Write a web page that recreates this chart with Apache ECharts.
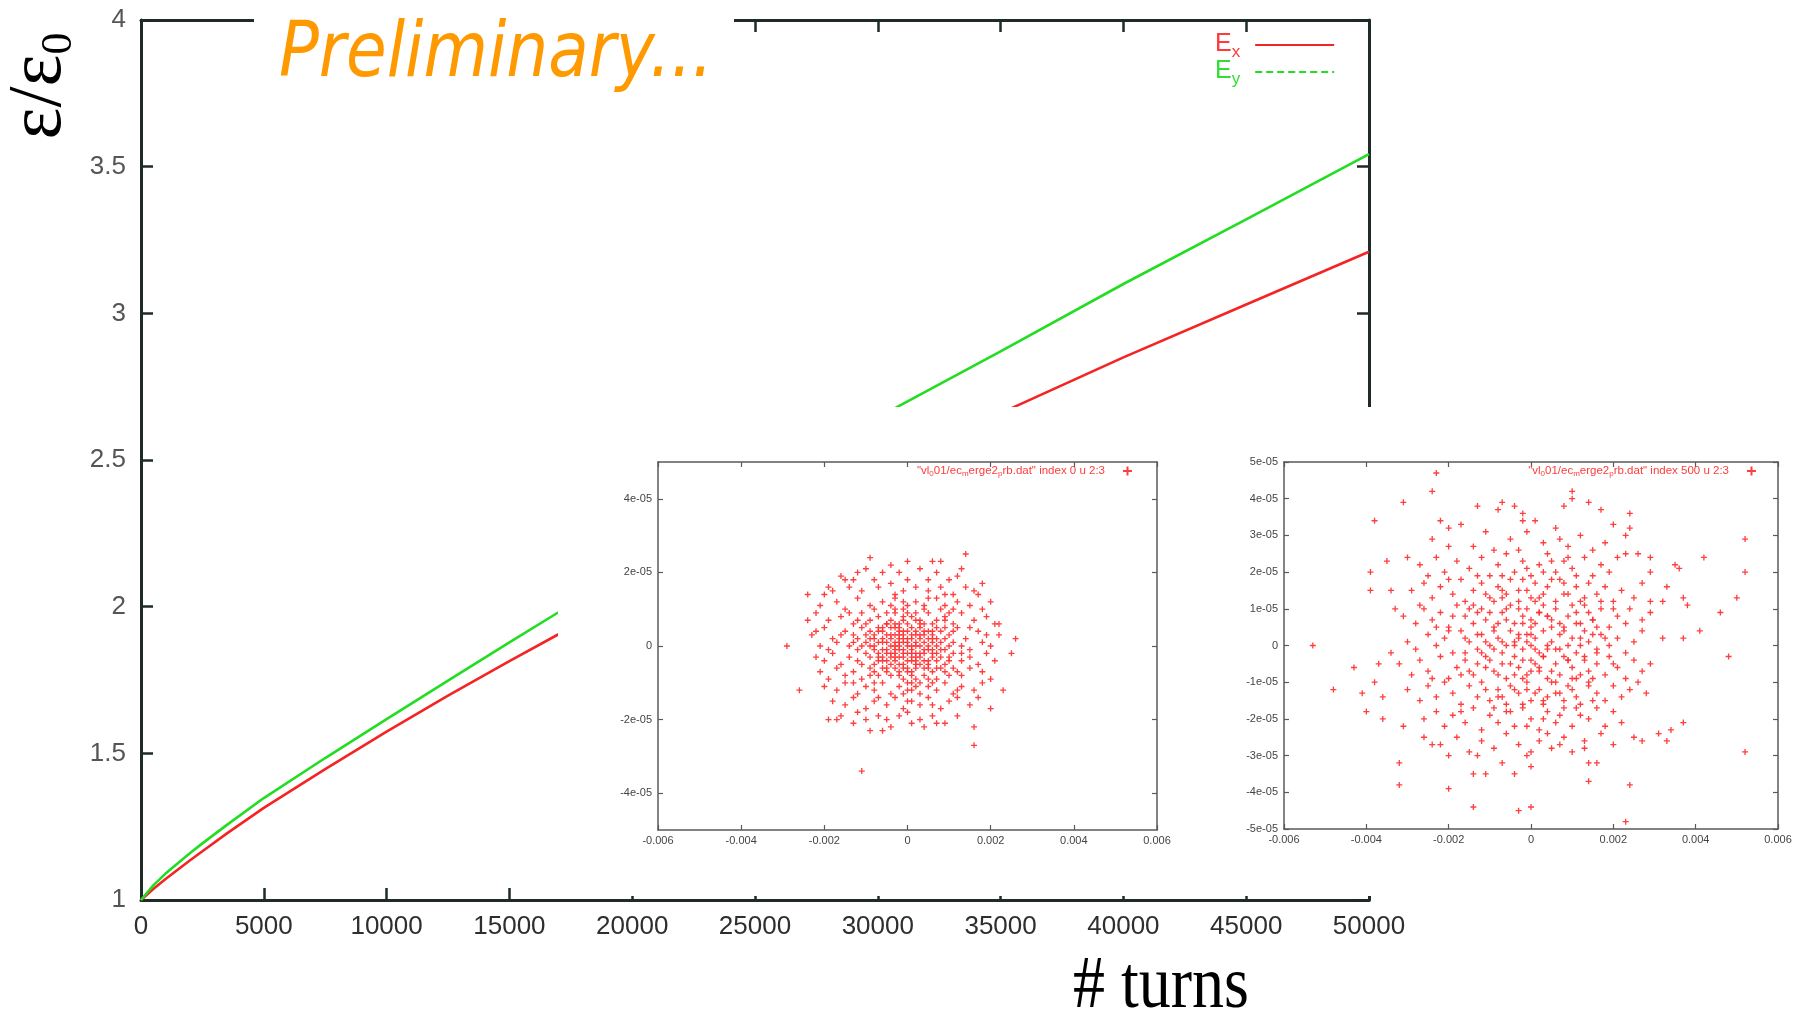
<!DOCTYPE html>
<html><head><meta charset="utf-8">
<script src="https://cdn.jsdelivr.net/npm/echarts@6/dist/echarts.min.js"></script>
<style>html,body{margin:0;padding:0;background:#fff}#c{width:1809px;height:1012px}</style>
</head><body><div id="c"></div>
<script>
// ---------------- DATA ----------------
const turns = [0, 500, 1000, 2000, 2500, 3500, 5000, 7500, 10000, 12500, 15000, 17000, 20000, 25000, 30000, 35000, 40000, 45000, 50000];
const exValues = [1.0, 1.0375, 1.0715, 1.1355, 1.166, 1.227, 1.314, 1.4465, 1.574, 1.6965, 1.814, 1.906, 2.03, 2.24, 2.45, 2.66, 2.85, 3.03, 3.21];
const eyValues = [1.0, 1.05, 1.09, 1.16, 1.193, 1.256, 1.3475, 1.484, 1.6165, 1.748, 1.878, 1.981, 2.14, 2.39, 2.645, 2.87, 3.10, 3.32, 3.543];
const seriesNames = ['Ex', 'Ey'];
const xTickValues = [0, 5000, 10000, 15000, 20000, 25000, 30000, 35000, 40000, 45000, 50000];
const yTickValues = [1, 1.5, 2, 2.5, 3, 3.5, 4];
const insetXTicks = [-0.006, -0.004, -0.002, 0, 0.002, 0.004, 0.006];
const inset1YTicks = [-4e-5, -2e-5, 0, 2e-5, 4e-5];
const inset2YTicks = [-5e-5, -4e-5, -3e-5, -2e-5, -1e-5, 0, 1e-5, 2e-5, 3e-5, 4e-5, 5e-5];
const inset1Name = '"vl_001/ec_merge2_prb.dat" index 0 u 2:3';
const inset2Name = '"vl_001/ec_merge2_prb.dat" index 500 u 2:3';
// inset particle points: [x in units of 1e-4, y in units of 1e-6]
const inset1Pts = [
[-29,0],[-26,-12],[-24,14],[-24,7],[-22,4],[-9,24],[14,25],[-11,-34],[16,-27],[16,-22],[26,2],[25,-2],[23,-12],[20,-17],[-19,-20],[-17,-20],[-9,-23],[-6,-23],[8,23],[6,23],[0,23],[-4,22],[-12,20],[-15,18],[-19,16],[18,17],[12,19],[16,15],[22,6],[22,3],
[-16,19],[-10,21],[-6,20],[-2,20],[3,21],[7,20],[10,18],[-13,18],[0,18],[5,18],[-8,18],[13,21],
[-18,15],[-14,16],[-11,15],[-7,16],[-4,17],[-1,15],[2,16],[5,15],[8,16],[11,14],[14,16],[17,14],[-20,14],[-3,14],[9,14],
[-21,11],[-17,12],[-15,10],[-12,13],[-9,11],[-6,12],[-3,13],[0,11],[2,12],[4,10],[7,13],[9,11],[12,12],[15,11],[18,10],[20,12],[-8,10],[-1,10],[5,13],[11,10],
[-22,9],[-19,7],[-16,8],[-13,6],[-11,9],[-9,7],[-7,8],[-5,6],[-3,9],[-1,7],[1,8],[3,6],[5,9],[7,7],[9,8],[11,6],[13,9],[16,7],[19,8],[21,6],[-4,7],[2,9],[6,6],[-10,6],[-14,9],[10,9],[-2,6],
[-23,3],[-20,5],[-18,2],[-15,4],[-13,3],[-11,5],[-9,2],[-7,4],[-5,3],[-3,5],[-2,2],[0,4],[1,2],[3,5],[4,3],[6,2],[8,4],[10,3],[12,5],[14,2],[17,4],[19,3],[-6,5],[-1,3],[2,4],[5,4],[7,2],[-4,2],[-8,3],[9,5],[-12,2],[15,5],[-16,3],
[-21,0],[-19,-1],[-17,1],[-14,0],[-12,-1],[-10,1],[-8,0],[-6,-1],[-5,1],[-3,0],[-2,-1],[-1,1],[0,0],[1,-1],[2,1],[3,0],[4,-1],[6,1],[7,0],[9,-1],[11,1],[13,0],[15,-1],[18,1],[20,0],[-4,0],[-7,1],[5,0],[8,1],[-2,0],[10,0],[-11,0],
[-22,-3],[-20,-4],[-18,-2],[-16,-5],[-14,-3],[-12,-4],[-10,-2],[-8,-5],[-6,-3],[-5,-4],[-3,-2],[-2,-5],[-1,-3],[0,-4],[1,-2],[2,-5],[3,-3],[5,-4],[6,-2],[8,-3],[9,-5],[11,-2],[13,-4],[15,-3],[17,-5],[19,-2],[21,-4],[-4,-3],[-7,-2],[4,-2],[7,-4],[-1,-5],[10,-4],[-9,-3],[2,-3],
[-21,-7],[-19,-9],[-17,-6],[-15,-8],[-13,-7],[-11,-9],[-9,-6],[-7,-8],[-5,-7],[-3,-6],[-1,-9],[0,-7],[2,-6],[4,-8],[5,-6],[7,-9],[9,-7],[11,-6],[13,-8],[15,-6],[18,-7],[20,-9],[-4,-8],[1,-8],[6,-7],[-8,-7],[10,-8],[-2,-7],
[-20,-11],[-17,-12],[-15,-10],[-12,-13],[-10,-11],[-8,-12],[-6,-10],[-4,-13],[-2,-11],[0,-12],[1,-10],[3,-13],[5,-11],[7,-12],[9,-10],[11,-13],[13,-11],[16,-12],[18,-10],[-13,-10],[2,-11],[-1,-13],[6,-10],[12,-12],
[-18,-15],[-15,-16],[-13,-14],[-10,-17],[-8,-15],[-5,-16],[-3,-14],[-1,-17],[1,-15],[3,-16],[5,-14],[8,-17],[10,-15],[12,-14],[15,-16],[-7,-14],[0,-15],[6,-16],[17,-14],
[-16,-19],[-13,-21],[-10,-20],[-7,-19],[-4,-22],[-2,-19],[1,-21],[3,-20],[6,-19],[9,-21],[12,-19],[-12,-18],[0,-18],[4,-22],[-5,-20],[7,-21],
[-3,1],[0,2],[-1,-1],[1,3],[-2,4],[2,-2],[-5,-1],[3,2],[-4,-2],[0,-2],[-6,2],[4,1],[-2,-3],[1,5],[-7,-3],[5,-1],[-3,3],[0,6],[-1,-6],[3,-5],[-5,6],[6,4],[-8,-1],[7,-2],[-9,4],[2,7],[-3,-4],[-6,-6],[4,6],[8,-6],
[-1,2],[1,-3],[-2,1],[2,3],[-3,-1],[3,-2],[0,1],[-1,-2],[1,0],[-4,3],[4,4],[-5,-2],[5,2],[-6,1],[6,-3],[-2,5],[2,-4],[-3,6],[3,7],[-7,5],[7,5],[-8,2],[8,-1],[-1,8],[1,-7],[-4,-5],[4,-4],[-5,-6],[5,-5],[-6,4],[6,3],[-7,-4],[7,-6],[-9,0],[9,2],[-2,-8],[2,-9],[0,9],[0,-10],[-10,3],[10,-3],[-3,10],[3,-10],[-11,-5],[11,4],[-12,7],[12,-7],[-1,12],[1,-12],[-4,11],[4,11],[-8,-10],[8,10],[-13,1],[13,-2],[-5,9],[5,-9],[-9,-8],[9,7],[-2,3],[2,0],[-3,-3],[3,3],[-6,-4],[6,-1],[-1,4],[1,-4],[0,-6],[-4,5],[4,-6]
];
const inset2Pts = [
[-53,0],[-48,-12],[-43,-6],[-41,-13],[-40,-18],[-38,-10],[-38,34],[-39,20],[-39,15],[-36,-20],[-36,-14],[-37,-5],[-35,23],[-34,-2],[-33,10],[-34,15],[-32,-32],[-32,-38],[-31,39],[-31,-22],[-30,24],
[-23,47],[-24,42],[-24,29],[-22,34],[-20,32],[-20,-39],[-20,-30],[-24,-27],[-26,-25],[-14,-44],[-14,-35],[-11,-35],[-7,-32],[-4,-35],[-3,-45],[0,-44],[0,-33],[0,-29],
[10,42],[10,40],[8,38],[14,39],[-7,39],[-8,37],[-13,38],[-4,38],[-2,36],[-2,34],[24,-38],[23,-48],[14,-37],[14,-32],[16,-32],[13,-28],[25,-25],[27,-26],[31,-24],[33,-26],[34,-23],[37,-21],
[52,-29],[48,-3],[41,4],[37,2],[32,2],[46,9],[50,13],[52,20],[52,29],[42,24],[35,22],[36,21],[37,13],[38,11],[33,16],[32,12],[29,12],[29,20],[29,24],[26,25],[23,25],[23,30],[24,36],[24,32],[17,37],[18,28],[20,33],
[-17,33],[-14,27],[-11,31],[-9,26],[-5,29],[-1,31],[3,28],[6,32],[9,27],[12,30],[15,26],[-20,27],[1,34],[7,29],[-3,26],
[-27,22],[-23,24],[-21,20],[-18,23],[-15,21],[-12,24],[-10,19],[-8,22],[-6,25],[-4,20],[-2,23],[0,19],[2,22],[4,25],[6,20],[8,23],[10,21],[13,24],[15,19],[17,22],[19,20],[21,24],[-13,19],[-1,21],[5,23],[11,19],[-7,19],[3,20],[9,24],[-25,19],
[-29,15],[-26,17],[-24,13],[-22,16],[-19,14],[-17,18],[-16,12],[-14,15],[-12,17],[-10,13],[-8,16],[-6,14],[-5,18],[-3,12],[-1,15],[1,17],[2,13],[4,16],[6,12],[7,18],[9,14],[11,16],[12,12],[14,17],[16,14],[18,16],[20,12],[22,15],[25,13],[-9,12],[-2,18],[3,14],[8,17],[13,13],[-20,18],[-11,14],[17,12],[27,17],[0,13],[-7,15],
[-31,8],[-28,6],[-26,10],[-24,7],[-22,9],[-20,5],[-18,11],[-16,8],[-14,6],[-12,10],[-11,7],[-9,5],[-7,9],[-5,11],[-4,6],[-2,8],[-1,10],[1,6],[2,9],[3,11],[5,7],[6,10],[8,5],[9,8],[10,11],[12,6],[14,9],[15,7],[17,10],[19,5],[21,8],[23,6],[24,10],[27,7],[-27,11],[-19,8],[-13,9],[-6,7],[0,5],[4,8],[7,6],[11,9],[16,5],[-3,10],[13,11],[-8,6],[-15,10],[20,10],[29,9],[-23,5],
[-30,1],[-28,-1],[-25,3],[-23,0],[-21,2],[-19,-2],[-17,4],[-15,1],[-13,-1],[-12,3],[-10,0],[-8,2],[-7,-2],[-5,4],[-4,1],[-2,-1],[-1,3],[0,0],[1,2],[2,-2],[3,4],[5,1],[6,-1],[7,3],[9,0],[10,2],[11,-2],[13,4],[14,1],[16,-1],[17,3],[19,0],[21,2],[23,-2],[25,1],[27,4],[-6,0],[-3,2],[4,-1],[8,4],[12,0],[-11,1],[-16,-2],[18,2],[-20,4],[0,3],[15,3],[-9,-1],
[-32,-5],[-29,-8],[-27,-4],[-25,-7],[-22,-3],[-20,-9],[-18,-6],[-16,-4],[-14,-8],[-13,-5],[-11,-3],[-9,-7],[-7,-5],[-6,-9],[-4,-3],[-3,-6],[-1,-8],[0,-4],[2,-7],[3,-3],[4,-9],[6,-5],[7,-8],[8,-3],[10,-6],[11,-9],[13,-4],[14,-7],[16,-5],[18,-8],[19,-3],[21,-6],[23,-9],[25,-4],[27,-7],[-24,-9],[-10,-4],[1,-5],[5,-7],[9,-4],[12,-8],[-2,-4],[15,-9],[-8,-8],[20,-5],[29,-5],[-17,-8],
[-30,-12],[-27,-15],[-25,-11],[-23,-14],[-21,-10],[-19,-13],[-17,-16],[-15,-11],[-13,-14],[-12,-10],[-10,-15],[-8,-12],[-6,-16],[-5,-11],[-3,-13],[-1,-10],[0,-15],[2,-12],[3,-16],[5,-10],[6,-13],[8,-15],[9,-11],[11,-14],[12,-16],[14,-10],[16,-13],[18,-15],[20,-11],[22,-14],[24,-12],[26,-10],[28,-13],[-7,-14],[1,-13],[-11,-12],[4,-14],[10,-12],[-2,-16],[15,-15],[-4,-12],
[-26,-20],[-23,-18],[-21,-22],[-19,-19],[-16,-21],[-14,-17],[-12,-23],[-10,-19],[-8,-21],[-6,-18],[-4,-22],[-2,-17],[0,-20],[2,-23],[4,-18],[6,-21],[8,-17],[10,-22],[12,-19],[14,-20],[16,-17],[18,-22],[20,-18],[22,-21],[-17,-18],[-1,-22],[7,-19],[-9,-17],[3,-20],[11,-17],
[-22,-27],[-18,-25],[-15,-29],[-12,-26],[-9,-28],[-6,-24],[-3,-27],[-1,-30],[2,-26],[5,-28],[8,-25],[10,-29],[13,-26],[17,-24],[20,-27],[-13,-30],[4,-24],[7,-27],
[-1,1],[1,-1],[-3,3],[3,-3],[-5,-5],[5,5],[-2,6],[2,-6],[-7,1],[7,-1],[-4,-8],[4,8],[-9,4],[9,-4],[-6,10],[6,-10],[-11,-6],[11,6],[-1,-12],[1,12],[-8,-14],[8,14],[-13,3],[13,-3],[-3,15],[3,-15],[-15,-7],[15,7],[-10,9],[10,-9],[-5,-18],[5,18],[-12,-2],[12,2],[-2,-9],[2,9],[-7,13],[7,-13],[-14,11],[14,-11],[0,7],[0,-7],[-16,2],[16,-2],[-4,0],[4,0]
];

// ---------------- STYLE / BUILD ----------------
const RED = '#f52424', GREEN = '#22dd22', PTS = '#ff2a2a';
const FRAME = '#1e2b28', IFRAME = '#5a5a5a';
const PLUS = 'path://M-0.22,-1H0.22V-0.22H1V0.22H0.22V1H-0.22V0.22H-1V-0.22H-0.22Z';
const sans = "'Liberation Sans', Arial, sans-serif";

function fmtX(v) { return Math.abs(v) < 1e-12 ? '0' : v.toFixed(3); }
function fmtE(v) {
  if (Math.abs(v) < 1e-12) return '0';
  return v.toExponential(0).replace(/e([+-])(\d)$/, 'e$10$2');
}
function subFmt(name) {
  return name.split(/_(.)/).map((p, i) => i % 2 ? '{s|' + p + '}' : '{n|' + p + '}').join('') + '{gap|}';
}

const mainAxisLine = { onZero: false, lineStyle: { color: FRAME, width: 3 } };
const mainTick = { inside: true, length: 12, lineStyle: { color: FRAME, width: 2.5 } };
const insetLine = { onZero: false, lineStyle: { color: IFRAME, width: 1.5 } };
const insetTick = { inside: true, length: 5, lineStyle: { color: IFRAME, width: 1.2 } };
const insetLabel = { fontSize: 11, color: '#444', fontFamily: sans };

function insetX(gi, pos, show) {
  return { gridIndex: gi, type: 'value', position: pos, min: -0.006, max: 0.006, interval: 0.002, z: 20,
    axisLine: insetLine, axisTick: Object.assign({ customValues: insetXTicks }, insetTick),
    axisLabel: Object.assign({ show: show, margin: 5, customValues: insetXTicks, formatter: fmtX }, insetLabel),
    splitLine: { show: false } };
}
function insetY(gi, pos, show, ticks) {
  return { gridIndex: gi, type: 'value', position: pos, min: -5e-5, max: 5e-5, interval: 1e-5, z: 20,
    axisLine: insetLine, axisTick: Object.assign({ customValues: ticks }, insetTick),
    axisLabel: Object.assign({ show: show, margin: 6, customValues: ticks, formatter: fmtE }, insetLabel),
    splitLine: { show: false } };
}
const insetRich = {
  n: { color: '#ff3a3a', fontSize: 11.5, lineHeight: 13, verticalAlign: 'top', fontFamily: sans },
  s: { color: '#ff3a3a', fontSize: 8, lineHeight: 8, padding: [6, 0, 0, 0], fontFamily: sans },
  gap: { width: 13 }
};

const option = {
  backgroundColor: '#ffffff',
  animation: false,
  grid: [
    { left: 141, top: 20, width: 1228, height: 880 },
    { left: 658, top: 462, width: 499, height: 368, z: 20 },
    { left: 1284, top: 462, width: 494, height: 367, z: 20 }
  ],
  xAxis: [
    { gridIndex: 0, type: 'value', position: 'bottom', min: 0, max: 50000, interval: 5000,
      axisLine: mainAxisLine, axisTick: Object.assign({ customValues: xTickValues }, mainTick),
      axisLabel: { customValues: xTickValues, formatter: v => String(v), fontSize: 26, color: '#2e2e2e', margin: 14, fontFamily: sans },
      splitLine: { show: false } },
    { gridIndex: 0, type: 'value', position: 'top', min: 0, max: 50000, interval: 5000,
      axisLine: mainAxisLine, axisTick: mainTick, axisLabel: { show: false }, splitLine: { show: false } },
    insetX(1, 'bottom', true), insetX(1, 'top', false),
    insetX(2, 'bottom', true), insetX(2, 'top', false)
  ],
  yAxis: [
    { gridIndex: 0, type: 'value', position: 'left', min: 1, max: 4, interval: 0.5,
      axisLine: mainAxisLine, axisTick: Object.assign({ customValues: yTickValues }, mainTick),
      axisLabel: { customValues: yTickValues, formatter: v => String(v), fontSize: 26, color: '#555', margin: 15, fontFamily: sans },
      splitLine: { show: false } },
    { gridIndex: 0, type: 'value', position: 'right', min: 1, max: 4, interval: 0.5,
      axisLine: mainAxisLine, axisTick: mainTick, axisLabel: { show: false }, splitLine: { show: false } },
    insetY(1, 'left', true, inset1YTicks), insetY(1, 'right', false, inset1YTicks),
    insetY(2, 'left', true, inset2YTicks), insetY(2, 'right', false, inset2YTicks)
  ],
  legend: [
    { data: [{ name: 'Ex' }, { name: 'Ey', lineStyle: { type: [7, 4] } }],
      orient: 'vertical', left: 1215, top: 29, align: 'right', padding: 0,
      itemWidth: 79, itemHeight: 14, itemGap: -5, selectedMode: false,
      itemStyle: { opacity: 0 },
      formatter: n => n === 'Ex' ? '{r|E}{rs|x}' : '{g|E}{gs|y}',
      textStyle: { rich: {
        r: { color: '#ff3a3a', fontSize: 25, lineHeight: 26, verticalAlign: 'top', fontFamily: sans },
        rs: { color: '#ff3a3a', fontSize: 17, lineHeight: 17, padding: [15, 10, 0, 0], fontFamily: sans },
        g: { color: '#33dd33', fontSize: 25, lineHeight: 26, verticalAlign: 'top', fontFamily: sans },
        gs: { color: '#33dd33', fontSize: 17, lineHeight: 17, padding: [15, 10, 0, 0], fontFamily: sans }
      } } },
    { data: [inset1Name], right: 677, top: 464, align: 'right', padding: 0, z: 25,
      itemWidth: 9, itemHeight: 9, icon: PLUS, selectedMode: false, formatter: subFmt,
      textStyle: { rich: insetRich } },
    { data: [inset2Name], right: 53, top: 464, align: 'right', padding: 0, z: 25,
      itemWidth: 9, itemHeight: 9, icon: PLUS, selectedMode: false, formatter: subFmt,
      textStyle: { rich: insetRich } }
  ],
  series: [
    { name: seriesNames[0], type: 'line', xAxisIndex: 0, yAxisIndex: 0, z: 2,
      data: turns.map((t, i) => [t, exValues[i]]), symbol: 'none', showSymbol: false,
      lineStyle: { color: RED, width: 2.6 }, itemStyle: { color: RED } },
    { name: seriesNames[1], type: 'line', xAxisIndex: 0, yAxisIndex: 0, z: 2,
      data: turns.map((t, i) => [t, eyValues[i]]), symbol: 'none', showSymbol: false,
      lineStyle: { color: GREEN, width: 2.6 }, itemStyle: { color: GREEN } },
    { name: inset1Name, type: 'scatter', xAxisIndex: 2, yAxisIndex: 2, z: 22,
      data: inset1Pts.map(p => [p[0] * 1e-4, p[1] * 1e-6]), symbol: PLUS, symbolSize: 6,
      itemStyle: { color: PTS, opacity: 0.9 } },
    { name: inset2Name, type: 'scatter', xAxisIndex: 4, yAxisIndex: 4, z: 22,
      data: inset2Pts.map(p => [p[0] * 1e-4, p[1] * 1e-6]), symbol: PLUS, symbolSize: 6,
      itemStyle: { color: PTS, opacity: 0.9 } }
  ],
  graphic: [
    { type: 'rect', z: 10, shape: { x: 558, y: 407, width: 1251, height: 489 }, style: { fill: '#ffffff' } },
    { type: 'rect', z: 10, shape: { x: 254, y: 0, width: 480, height: 110 }, style: { fill: '#ffffff' } },
    { type: 'text', z: 11, x: 279, y: 56, scaleX: 0.87,
      style: { text: 'Preliminary...', font: 'italic 76px "DejaVu Sans"', fill: '#ff9900', verticalAlign: 'middle', align: 'left' } },
    { type: 'text', z: 11, x: 40, y: 86, rotation: Math.PI / 2,
      style: { text: '{e|ε/ε}{s|0}', align: 'center', verticalAlign: 'middle', fill: '#000',
        rich: {
          e: { fontSize: 76, lineHeight: 76, verticalAlign: 'top', fontFamily: "'Liberation Serif', serif", fill: '#000', color: '#000' },
          s: { fontSize: 44, lineHeight: 44, padding: [39, 0, 0, 0], fontFamily: "'Liberation Serif', serif", fill: '#000', color: '#000' }
        } } },
    { type: 'text', z: 11, x: 1073, y: 988, scaleY: 1.14,
      style: { text: '# turns', font: '64px "Liberation Serif"', fill: '#000', verticalAlign: 'middle', align: 'left' } }
  ]
};
const chart = echarts.init(document.getElementById('c'), null, { renderer: 'canvas' });
chart.setOption(option);
</script>
</body></html>
